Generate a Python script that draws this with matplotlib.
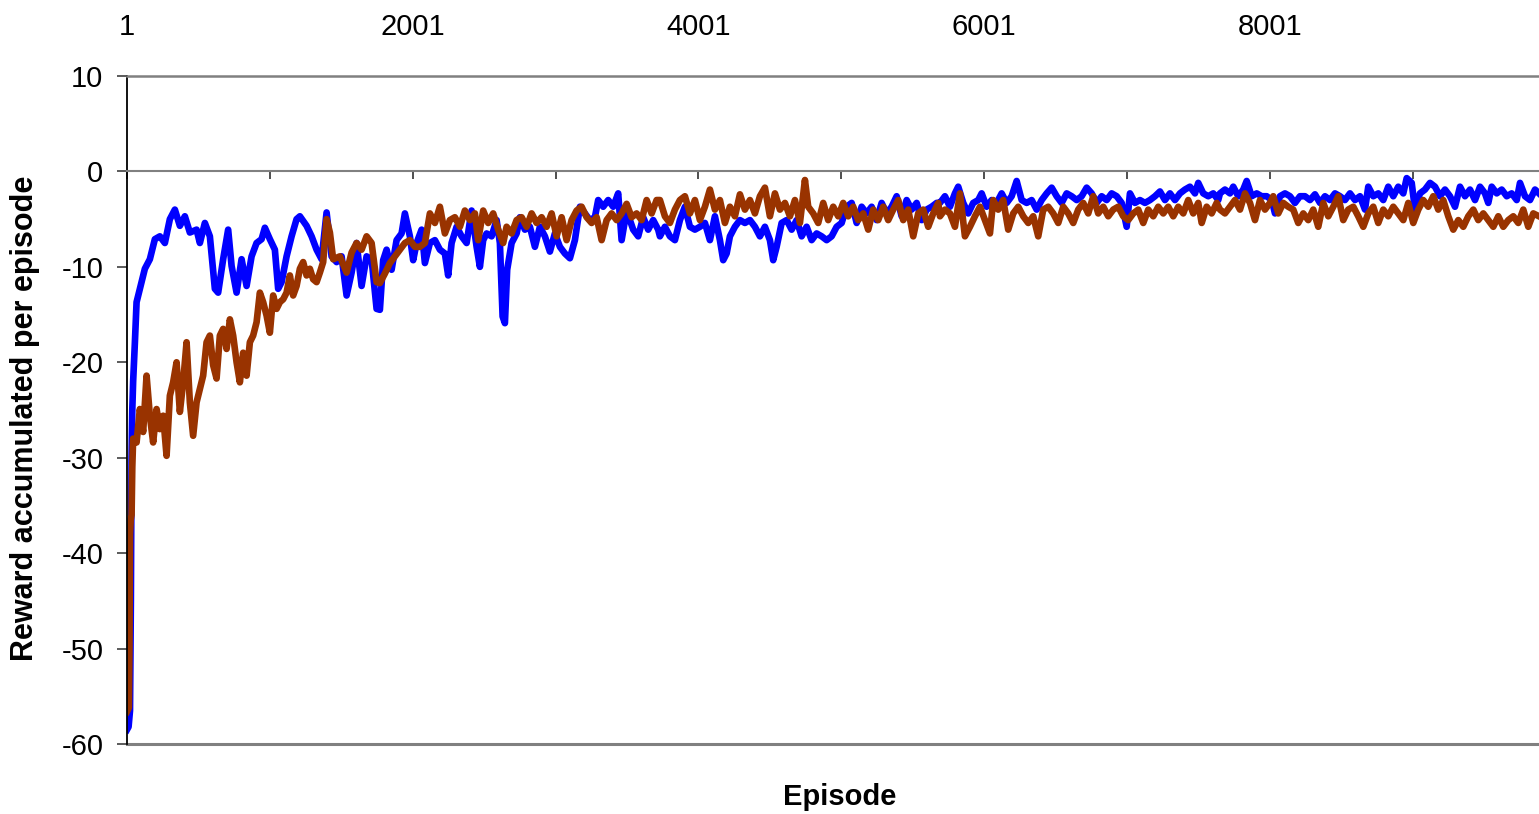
import matplotlib
matplotlib.use("Agg")
from matplotlib import pyplot as plt

plt.rcParams["font.family"] = ["Liberation Sans", "DejaVu Sans"]
plt.rcParams["axes.unicode_minus"] = False

# blue run: episode and reward accumulated per episode
blue_episode = [
    1, 12, 22, 28, 33, 38, 44, 56, 68, 91, 103, 126, 161, 196, 231, 266, 301, 336,
    371, 406, 441, 488, 511, 546, 581, 616, 639, 674, 709, 733, 768, 803, 838, 873,
    908, 943, 966, 1001, 1036, 1059, 1083, 1118, 1153, 1188, 1211, 1258, 1293, 1328,
    1363, 1398, 1433, 1468, 1503, 1538, 1573, 1608, 1643, 1678, 1713, 1748,
    1771, 1794, 1818, 1853, 1888, 1923, 1946, 1981, 2004, 2028, 2063, 2086, 2121,
    2156, 2191, 2226, 2249, 2273, 2308, 2343, 2378, 2413, 2448, 2471, 2494, 2518,
    2553, 2588, 2611, 2630, 2646, 2662, 2693, 2728, 2751, 2786, 2821, 2856, 2891,
    2926, 2961, 2996, 3031, 3066, 3101, 3136, 3171, 3206, 3241, 3276, 3299, 3334,
    3369, 3404, 3439, 3463, 3498, 3544, 3579, 3614, 3649, 3684, 3719,
    3731, 3766, 3801, 3836, 3871, 3906, 3941, 3976, 4011, 4046, 4081, 4116, 4151,
    4174, 4198, 4221, 4256, 4291, 4326, 4361, 4396, 4431, 4466, 4501, 4524, 4548,
    4583, 4618, 4653, 4688, 4723, 4758, 4793, 4828, 4863, 4898, 4933, 4968, 5003,
    5038, 5073, 5108, 5143, 5178, 5213, 5248, 5283, 5318, 5353, 5388, 5423, 5458,
    5493, 5528, 5563, 5598, 5633, 5668,
    5691, 5726, 5761, 5796, 5819, 5854, 5889, 5924, 5959, 5983, 6018, 6053, 6088,
    6123, 6158, 6193, 6228, 6263, 6298, 6333, 6368, 6403, 6438, 6473, 6508, 6543,
    6578, 6613, 6648, 6683, 6718, 6753, 6788, 6823, 6858, 6893, 6928, 6963, 6998,
    7021, 7056, 7091, 7126, 7161, 7196, 7231, 7266, 7301, 7336, 7371, 7406, 7441,
    7476, 7499, 7534, 7569, 7604, 7639,
    7651, 7686, 7721, 7744, 7779, 7814, 7838, 7873, 7908, 7943, 7978, 8013, 8036,
    8071, 8106, 8141, 8176, 8211, 8246, 8281, 8316, 8351, 8386, 8421, 8456, 8491,
    8526, 8561, 8596, 8631, 8666, 8689, 8724, 8759, 8794, 8829, 8864, 8899, 8934,
    8958, 8993, 9016, 9051, 9086, 9121, 9156, 9191, 9226, 9261, 9296, 9331, 9366,
    9401, 9436, 9471, 9506, 9529, 9553, 9588, 9623, 9658, 9693, 9728, 9751, 9786,
    9821, 9856, 9884,
]
blue_reward = [
    -58.5, -58.2, -56.5, -45, -30, -25, -22, -18, -13.7, -12.3, -11.6, -10.2, -9.2,
    -7.1, -6.8, -7.5, -5.0, -4.0, -5.7, -4.7, -6.4, -6.1, -7.5, -5.4, -6.8, -12.3,
    -12.7, -9.2, -6.1, -9.9, -12.7, -9.2, -12.0, -8.9, -7.5, -7.1, -5.9, -7.1, -8.2,
    -12.3, -11.6, -8.9, -6.8, -5.0, -4.7, -5.7, -6.8, -8.2, -9.2, -4.3, -8.9, -9.5,
    -8.9, -13.0, -10.6, -7.5, -12.0, -8.9, -9.2, -14.4,
    -14.5, -9.3, -8.2, -10.3, -7.2, -6.5, -4.4, -6.8, -9.3, -7.5, -6.1, -9.6, -7.5,
    -7.2, -8.2, -8.6, -10.9, -7.5, -5.8, -6.8, -7.5, -4.1, -7.9, -10.0, -7.2, -6.5,
    -6.8, -5.1, -7.5, -15.2, -15.9, -10.3, -7.5, -6.5, -4.8, -6.1, -5.8, -7.9, -5.8,
    -6.8, -8.4, -6.5, -7.9, -8.6, -9.1, -7.2, -3.7, -4.4, -5.1, -4.8, -3.0, -3.7,
    -3.0, -3.7, -2.3, -7.2, -4.1, -6.1, -6.8, -4.8, -6.1, -5.1, -6.1,
    -6.8, -5.8, -6.8, -7.2, -5.1, -3.7, -5.8, -6.1, -5.8, -5.4, -7.2, -4.7, -7.2,
    -9.3, -8.6, -6.8, -5.8, -5.1, -5.4, -5.1, -5.8, -6.8, -5.8, -7.2, -9.3, -7.9,
    -5.4, -5.1, -6.1, -5.1, -6.8, -5.8, -7.2, -6.5, -6.8, -7.2, -6.8, -5.8, -5.4,
    -3.7, -3.3, -5.4, -3.7, -4.4, -3.7, -5.1, -3.3, -4.4, -3.7, -2.6, -4.7, -3.0,
    -4.0, -3.3, -5.1, -4.0, -3.7, -3.3,
    -3.3, -2.6, -3.7, -2.3, -1.6, -3.3, -4.4, -3.3, -3.0, -2.3, -3.7, -3.0, -3.3,
    -2.3, -3.3, -2.6, -1.0, -3.0, -3.3, -3.0, -4.0, -3.0, -2.3, -1.7, -2.6, -3.3,
    -2.3, -2.6, -3.0, -2.6, -1.7, -2.3, -3.3, -2.6, -3.0, -2.3, -2.6, -3.3, -5.8,
    -2.3, -3.3, -3.0, -3.3, -3.0, -2.6, -2.1, -3.0, -2.3, -3.0, -2.3, -1.9, -1.6,
    -2.3, -1.2, -2.3, -2.6, -2.3, -3.0,
    -2.3, -1.9, -2.3, -1.6, -2.6, -1.9, -1.0, -2.6, -2.3, -2.6, -2.6, -3.0, -4.4,
    -2.6, -2.3, -2.6, -3.3, -2.6, -2.6, -3.0, -2.4, -3.3, -2.6, -3.0, -2.3, -2.6,
    -3.0, -2.3, -3.0, -2.6, -4.0, -1.6, -2.6, -2.3, -3.0, -1.6, -2.6, -1.6, -2.3,
    -0.7, -1.2, -4.0, -2.3, -1.9, -1.2, -1.6, -2.6, -1.9, -2.6, -3.7, -1.6, -2.6,
    -1.9, -3.0, -1.6, -2.3, -3.3, -1.6, -2.3, -1.9, -2.6, -2.3, -3.0, -1.2, -2.6,
    -3.0, -1.9, -2.3,
]

# brown run
brown_episode = [
    1, 14, 18, 22, 27, 33, 38, 44, 68, 91, 114, 138, 161, 184, 208, 231, 254, 278,
    301, 324, 348, 371, 394, 418, 441, 464, 488, 511, 534, 558, 581, 604, 628, 651,
    674, 698, 721, 744, 768, 791, 814, 838, 861, 884, 908, 931, 954, 978, 1001,
    1024, 1048, 1071, 1094, 1118, 1141, 1164, 1188, 1211, 1234, 1258, 1281, 1304,
    1328, 1351, 1374, 1398, 1421, 1444, 1491, 1538, 1573, 1608, 1643, 1678, 1713,
    1748,
    1771, 1806, 1841, 1876, 1911, 1946, 1981, 2016, 2051, 2086, 2121, 2156, 2191,
    2226, 2261, 2296, 2331, 2366, 2401, 2436, 2459, 2494, 2529, 2564, 2599, 2634,
    2658, 2693, 2728, 2763, 2798, 2833, 2868, 2903, 2938, 2973, 3008, 3043, 3078,
    3113, 3148, 3183, 3218, 3253, 3288, 3323, 3358, 3393, 3428, 3463, 3498, 3533,
    3568, 3603, 3638, 3673, 3708,
    3731, 3766, 3801, 3836, 3871, 3906, 3941, 3976, 4011, 4046, 4081, 4116, 4151,
    4186, 4221, 4256, 4291, 4326, 4361, 4396, 4431, 4466, 4501, 4536, 4571, 4606,
    4641, 4676, 4711, 4746, 4769, 4804, 4839, 4874, 4909, 4944, 4979, 5014, 5049,
    5084, 5119, 5154, 5189, 5224, 5259, 5294, 5329, 5364, 5399, 5434, 5469, 5504,
    5539, 5574, 5609, 5644, 5679,
    5691, 5726, 5761, 5796, 5831, 5866, 5901, 5936, 5971, 6006, 6041, 6064, 6099,
    6134, 6169, 6204, 6239, 6274, 6309, 6344, 6379, 6414, 6449, 6484, 6519, 6554,
    6589, 6624, 6659, 6694, 6729, 6764, 6799, 6834, 6869, 6904, 6939, 6974, 7009,
    7044, 7079, 7114, 7149, 7184, 7219, 7254, 7289, 7324, 7359, 7394, 7429, 7464,
    7499, 7523, 7558, 7593, 7628,
    7651, 7686, 7721, 7756, 7791, 7826, 7861, 7896, 7931, 7966, 8001, 8024, 8059,
    8094, 8129, 8164, 8199, 8234, 8269, 8304, 8339, 8374, 8409, 8444, 8479, 8514,
    8549, 8584, 8619, 8654, 8689, 8724, 8759, 8794, 8829, 8864, 8899, 8934, 8969,
    9004, 9039, 9074, 9109, 9144, 9179, 9214, 9249, 9284, 9319, 9354, 9389, 9424,
    9459, 9494, 9529, 9564, 9599, 9634, 9669, 9704, 9739, 9774, 9809, 9844, 9884,
]
brown_reward = [
    -56.6, -56.2, -50, -38, -36.5, -36, -31, -28.0, -28.4, -24.9, -27.3, -21.4,
    -25.6, -28.4, -24.9, -27.0, -25.6, -29.8, -23.5, -22.1, -20.0, -25.2, -22.1,
    -17.9, -24.2, -27.7, -24.2, -22.8, -21.4, -17.9, -17.2, -20.3, -21.7, -17.2,
    -16.5, -18.6, -15.5, -17.2, -20.0, -22.1, -19.0, -21.4, -17.9, -17.2, -15.8,
    -12.7, -13.7, -15.1, -16.9, -13.0, -14.4, -13.7, -13.4, -12.7, -10.9, -13.0,
    -12.0, -10.2, -9.5, -10.9, -10.2, -11.3, -11.6, -10.6, -9.5, -5.0, -6.4, -9.2,
    -8.9, -10.6, -8.5, -7.5, -8.2, -6.8, -7.5, -11.6,
    -11.7, -10.7, -9.6, -8.9, -8.2, -7.5, -7.2, -7.9, -7.9, -7.5, -4.4, -5.4, -3.7,
    -6.5, -5.1, -4.8, -5.8, -4.1, -5.1, -4.4, -7.2, -4.1, -5.4, -4.4, -6.1, -7.5,
    -5.8, -6.5, -5.1, -4.8, -5.8, -4.4, -5.4, -4.8, -5.8, -4.4, -6.8, -4.8, -7.2,
    -5.1, -4.1, -3.7, -4.8, -5.4, -4.8, -7.2, -5.1, -4.4, -5.1, -4.4, -3.4, -4.8,
    -4.4, -5.1, -3.0, -4.4, -3.0,
    -3.0, -4.7, -5.4, -4.0, -3.0, -2.6, -4.4, -3.0, -5.1, -3.7, -1.9, -4.0, -3.0,
    -5.4, -3.7, -4.7, -2.4, -4.0, -3.0, -4.4, -2.6, -1.7, -4.7, -2.3, -4.0, -3.3,
    -4.7, -3.0, -5.4, -0.9, -3.7, -4.4, -5.4, -3.3, -5.1, -3.7, -4.7, -3.3, -4.7,
    -3.7, -5.1, -4.4, -6.1, -4.0, -5.1, -3.7, -5.1, -4.0, -3.0, -5.1, -4.0, -6.8,
    -4.4, -4.0, -5.8, -4.4, -3.3,
    -4.7, -4.0, -4.4, -5.8, -2.3, -6.8, -5.8, -4.7, -3.7, -5.1, -6.5, -3.0, -4.0,
    -3.0, -6.1, -4.4, -3.7, -4.7, -5.4, -4.7, -6.8, -4.0, -3.7, -4.4, -5.4, -3.7,
    -4.4, -5.4, -4.0, -3.3, -4.4, -2.6, -4.4, -3.7, -4.7, -4.0, -3.7, -4.7, -5.1,
    -4.4, -4.0, -5.4, -4.0, -4.7, -3.7, -4.4, -3.7, -4.7, -3.7, -4.4, -3.0, -4.4,
    -3.3, -5.4, -3.7, -4.4, -3.3,
    -4.0, -4.4, -3.7, -3.0, -4.0, -2.3, -3.3, -5.1, -3.0, -4.0, -3.3, -2.6, -4.4,
    -3.3, -3.7, -4.0, -5.4, -4.4, -5.1, -4.0, -5.8, -3.3, -4.7, -3.7, -2.6, -5.1,
    -4.0, -3.7, -4.7, -5.8, -4.4, -3.7, -5.4, -4.0, -4.7, -3.7, -4.4, -5.1, -3.3,
    -5.4, -4.0, -3.0, -3.7, -2.6, -4.0, -3.0, -4.7, -6.1, -5.1, -5.8, -4.7, -4.0,
    -5.1, -4.4, -5.1, -5.8, -4.7, -5.8, -5.1, -4.7, -5.4, -4.0, -5.8, -4.4, -4.7,
]

top_labels = [1, 2001, 4001, 6001, 8001]
axis_ticks = [1001, 3001, 5001, 7001, 9001]
y_ticks = list(range(-60, 11, 10))

fig = plt.figure(figsize=(15.39, 8.14), dpi=100)
ax = fig.add_axes([127 / 1539, 70 / 814, 1412 / 1539, 668 / 814])

ax.plot(blue_episode, blue_reward, color="#0000ff", lw=4.8, solid_joinstyle="round")
ax.plot(brown_episode, brown_reward, color="#993300", lw=4.8, solid_joinstyle="round")

ax.set_xlim(1, 9884)
ax.set_ylim(-60, 10)

# x axis crosses at 0, labels sit above the plot
ax.spines["bottom"].set_position(("data", 0))
ax.spines["bottom"].set_color("#808080")
ax.spines["bottom"].set_linewidth(1.5)
ax.spines["top"].set_color("#808080")
ax.spines["top"].set_linewidth(1.8)
ax.spines["right"].set_visible(False)
ax.spines["left"].set_color("black")
ax.spines["left"].set_linewidth(1.3)
ax.axhline(-60, color="#808080", lw=2.2, clip_on=False)

ax.set_xticks(top_labels)
ax.set_xticks(axis_ticks, minor=True)
ax.set_xticklabels([str(t) for t in top_labels])
ax.tick_params(axis="x", which="both", bottom=True, top=False, labelbottom=False,
               labeltop=True, direction="out", length=6, width=1.2, color="#303030",
               labelsize=21, pad=19)

ax.set_yticks(y_ticks)
ax.tick_params(axis="y", direction="out", length=7, width=1.2, color="#404040",
               labelsize=21, pad=10)

ax.set_ylabel("Reward accumulated per episode", fontsize=22, fontweight="bold",
              va="center")
ax.yaxis.set_label_coords(-0.072, 0.487)
fig.text(840 / 1539, 1 - 797 / 814, "Episode", ha="center", va="center",
         fontsize=21, fontweight="bold")

fig.savefig("out.png", dpi=100)
